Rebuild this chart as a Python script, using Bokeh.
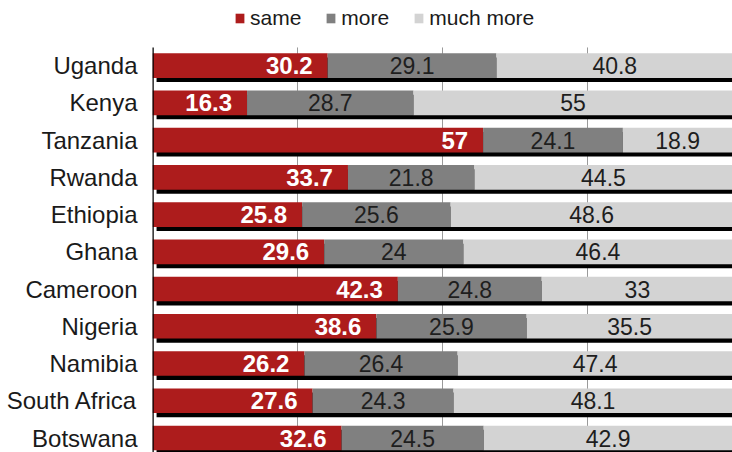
from bokeh.plotting import figure
from bokeh.models import (ColumnDataSource, Range1d, FixedTicker, Legend, LegendItem)
from bokeh.core.properties import value
from bokeh.embed import file_html
from bokeh.resources import INLINE

countries = ["Uganda", "Kenya", "Tanzania", "Rwanda", "Ethiopia", "Ghana",
             "Cameroon", "Nigeria", "Namibia", "South Africa", "Botswana"]
same = [30.2, 16.3, 57, 33.7, 25.8, 29.6, 42.3, 38.6, 26.2, 27.6, 32.6]
more = [29.1, 28.7, 24.1, 21.8, 25.6, 24, 24.8, 25.9, 26.4, 24.3, 24.5]
much_more = [40.8, 55, 18.9, 44.5, 48.6, 46.4, 33, 35.5, 47.4, 48.1, 42.9]
series_names = ["same", "more", "much more"]
grid_ticks = [25, 50, 75]

RED = "#AD1C1C"
DARK = "#808080"
LIGHT = "#D3D3D3"
FONT = "Liberation Sans"

n = len(countries)
pos = [n - 1 - i for i in range(n)]
s_end = same
m_end = [a + b for a, b in zip(same, more)]
t_end = [a + b + c for a, b, c in zip(same, more, much_more)]

Y_BOTTOM, Y_AREA_TOP, Y_TOP = -0.389, 10.489, 11.75

src = ColumnDataSource(dict(
    y=pos,
    ys=[y - 0.11 for y in pos],
    zero=[0] * n,
    shadow_left=[0.7] * n,
    s_end=s_end, m_end=m_end, t_end=t_end,
    s_lab=[f"{v:g}" for v in same],
    m_lab=[f"{v:g}" for v in more],
    t_lab=[f"{v:g}" for v in much_more],
    m_mid=[(a + b) / 2 for a, b in zip(s_end, m_end)],
    t_mid=[(a + b) / 2 for a, b in zip(m_end, t_end)],
))

W, H = 732, 452
p = figure(width=W, height=H, output_backend="svg", toolbar_location=None,
           x_range=Range1d(0, 100), y_range=Range1d(Y_BOTTOM, Y_TOP),
           min_border_left=152, min_border_right=0, min_border_top=0,
           min_border_bottom=0, outline_line_color=None)
p.xaxis.visible = False
p.ygrid.visible = False
p.xgrid.visible = False

# gridlines limited to the plot area
p.segment(x0=grid_ticks, x1=grid_ticks, y0=[Y_BOTTOM] * 3, y1=[Y_AREA_TOP] * 3,
          line_color="#9A9A9A", line_width=1)

p.yaxis.ticker = FixedTicker(ticks=pos)
p.yaxis.major_label_overrides = {y: c for y, c in zip(pos, countries)}
p.yaxis.major_tick_line_color = None
p.yaxis.minor_tick_line_color = None
p.yaxis.major_tick_out = 0
p.yaxis.major_tick_in = 0
p.yaxis.minor_tick_out = 0
p.yaxis.minor_tick_in = 0
p.yaxis.axis_line_color = None
p.yaxis.major_label_standoff = 15
p.yaxis.major_label_text_font = FONT
p.yaxis.major_label_text_font_size = "24px"
p.yaxis.major_label_text_color = "#1a1a1a"

BH = 0.66
# shadow
p.hbar(y="ys", left="shadow_left", right="t_end", height=BH, source=src,
       fill_color="black", line_color=None)
r1 = p.hbar(y="y", left="zero", right="s_end", height=BH, source=src,
            fill_color=RED, line_color=None)
r2 = p.hbar(y="y", left="s_end", right="m_end", height=BH, source=src,
            fill_color=DARK, line_color=None)
r3 = p.hbar(y="y", left="m_end", right="t_end", height=BH, source=src,
            fill_color=LIGHT, line_color=None)

# axis line
p.segment(x0=[0], x1=[0], y0=[Y_BOTTOM], y1=[Y_AREA_TOP],
          line_color="black", line_width=2.5)

p.text(x="s_end", y="y", text="s_lab", source=src, text_align="right",
       text_baseline="middle", x_offset=-15, text_color="white",
       text_font=value(FONT), text_font_size="24px", text_font_style="bold")
p.text(x="m_mid", y="y", text="m_lab", source=src, text_align="center",
       text_baseline="middle", text_color="#1e1e1e",
       text_font=value(FONT), text_font_size="23px")
p.text(x="t_mid", y="y", text="t_lab", source=src, text_align="center",
       text_baseline="middle", text_color="#1e1e1e",
       text_font=value(FONT), text_font_size="23px")

legend = Legend(items=[LegendItem(label=series_names[0], renderers=[r1]),
                       LegendItem(label=series_names[1], renderers=[r2]),
                       LegendItem(label=series_names[2], renderers=[r3])],
                orientation="horizontal", location=(82, 422),
                glyph_width=11, glyph_height=12, label_standoff=5, spacing=24,
                padding=0, margin=0, border_line_color=None,
                background_fill_alpha=0,
                label_text_font=FONT, label_text_font_size="21px",
                label_text_color="#1a1a1a")
p.add_layout(legend, "center")

open("out.html", "w").write(file_html(p, INLINE))
